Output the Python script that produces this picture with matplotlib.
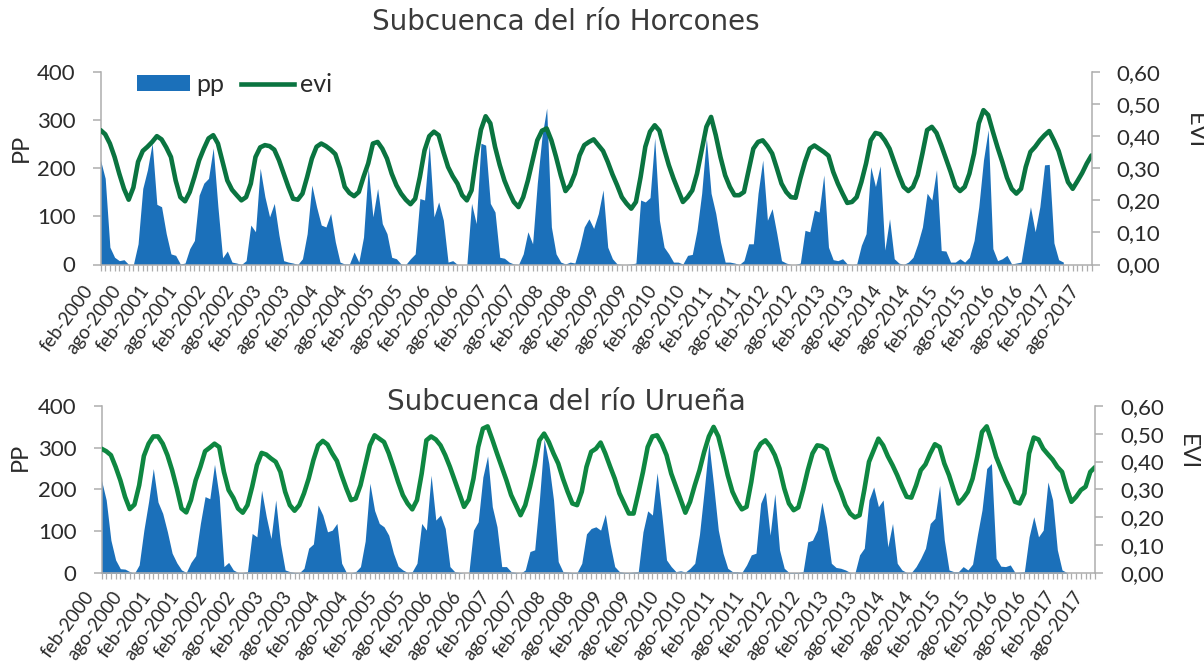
import numpy as np
import matplotlib
matplotlib.use("Agg")
import matplotlib.pyplot as plt
import matplotlib.transforms as mtransforms
from matplotlib.patches import Patch
from matplotlib.lines import Line2D

W, H, DPI = 1204, 668, 100

# ---- category axis: monthly series from feb-2000 to sep-2017 ----
month_abbr = ["ene", "feb", "mar", "abr", "may", "jun",
              "jul", "ago", "sep", "oct", "nov", "dic"]
start_year, start_month = 2000, 2
n_months = 212
label_step = 6
months = [f"{month_abbr[(start_month - 1 + k) % 12]}-{start_year + (start_month - 1 + k) // 12}"
          for k in range(n_months)]

# ---- Subcuenca del río Horcones ----
pp_horcones = [
    217, 179, 36, 15, 8, 10, 0, 0, 43, 158,
    197, 252, 125, 120, 64, 22, 19, 1, 3, 33,
    50, 144, 169, 179, 242, 120, 14, 28, 5, 3,
    0, 8, 82, 68, 200, 141, 99, 127, 61, 8,
    5, 3, 0, 12, 64, 165, 120, 82, 78, 106,
    47, 5, 1, 1, 26, 5, 57, 200, 99, 158,
    85, 64, 15, 12, 1, 0, 12, 22, 137, 134,
    249, 99, 130, 92, 5, 8, 0, 0, 0, 127,
    85, 252, 248, 127, 109, 15, 13, 5, 1, 0,
    22, 68, 43, 169, 266, 325, 78, 22, 5, 1,
    5, 3, 36, 78, 95, 75, 106, 155, 36, 12,
    1, 0, 0, 1, 3, 134, 130, 139, 263, 92,
    36, 22, 5, 5, 1, 19, 21, 71, 148, 263,
    148, 106, 47, 5, 5, 3, 0, 8, 43, 43,
    148, 217, 92, 116, 64, 8, 3, 0, 0, 3,
    71, 68, 113, 109, 186, 36, 10, 8, 12, 1,
    0, 1, 40, 64, 203, 162, 205, 30, 95, 12,
    3, 0, 5, 15, 43, 78, 148, 134, 197, 29,
    28, 5, 5, 12, 5, 15, 50, 120, 217, 280,
    33, 8, 12, 19, 1, 3, 5, 64, 120, 68,
    120, 207, 208, 45, 10, 5,
]
evi_horcones = [
    .419, .406, .377, .335, .283, .236, .202, .240, .320, .354,
    .367, .382, .400, .390, .365, .335, .262, .210, .197, .226,
    .273, .325, .361, .393, .403, .377, .320, .262, .233, .216,
    .200, .210, .252, .335, .365, .372, .369, .358, .325, .283,
    .242, .205, .202, .221, .273, .330, .367, .377, .369, .358,
    .344, .300, .242, .223, .213, .226, .273, .315, .377, .382,
    .361, .330, .283, .247, .221, .202, .188, .205, .273, .356,
    .400, .414, .403, .351, .304, .275, .252, .216, .200, .231,
    .335, .420, .462, .440, .367, .310, .262, .226, .195, .179,
    .210, .262, .325, .387, .417, .424, .387, .335, .278, .229,
    .247, .283, .340, .372, .382, .390, .372, .354, .320, .281,
    .247, .210, .190, .174, .195, .273, .367, .414, .434, .417,
    .361, .310, .268, .231, .195, .210, .231, .283, .356, .429,
    .460, .403, .335, .278, .242, .216, .216, .226, .294, .361,
    .382, .387, .369, .346, .300, .252, .226, .210, .208, .268,
    .320, .361, .371, .361, .351, .339, .289, .252, .221, .192,
    .195, .210, .257, .315, .387, .410, .406, .387, .361, .320,
    .278, .242, .229, .242, .278, .346, .419, .429, .410, .372,
    .330, .289, .244, .229, .242, .283, .346, .440, .481, .466,
    .414, .365, .320, .271, .236, .221, .236, .304, .351, .367,
    .387, .403, .416, .387, .354, .304, .257, .236, .260, .285,
    .315, .340,
]

# ---- Subcuenca del río Urueña ----
pp_uruena = [
    222, 175, 79, 32, 11, 10, 4, 0, 20, 103,
    171, 250, 170, 143, 99, 48, 25, 8, 2, 26,
    42, 119, 183, 178, 260, 183, 16, 26, 8, 2,
    2, 4, 95, 87, 198, 135, 83, 175, 71, 8,
    4, 2, 1, 12, 60, 70, 163, 139, 99, 103,
    119, 24, 2, 1, 4, 16, 77, 215, 150, 119,
    111, 91, 48, 17, 8, 2, 4, 24, 119, 103,
    234, 127, 139, 107, 16, 4, 2, 0, 0, 103,
    123, 230, 280, 159, 111, 16, 16, 4, 2, 0,
    8, 52, 56, 175, 320, 262, 175, 28, 4, 3,
    2, 2, 24, 94, 107, 111, 103, 141, 71, 16,
    4, 2, 2, 3, 4, 99, 149, 139, 240, 140,
    32, 16, 4, 6, 3, 12, 24, 93, 198, 310,
    210, 103, 48, 12, 4, 4, 2, 20, 44, 48,
    167, 194, 91, 190, 56, 12, 2, 2, 2, 4,
    75, 79, 103, 170, 110, 24, 14, 12, 8, 2,
    0, 44, 60, 175, 206, 159, 175, 63, 119, 24,
    8, 2, 2, 16, 36, 60, 119, 131, 210, 79,
    8, 4, 4, 16, 8, 22, 90, 151, 250, 262,
    36, 17, 16, 20, 2, 3, 4, 87, 135, 87,
    103, 218, 175, 56, 8, 2,
]
evi_uruena = [
    .446, .437, .423, .381, .333, .274, .230, .246, .315, .420,
    .464, .490, .490, .464, .423, .369, .304, .232, .218, .262,
    .333, .381, .437, .450, .464, .452, .363, .298, .270, .232,
    .217, .244, .310, .387, .431, .425, .411, .399, .363, .292,
    .244, .224, .244, .286, .339, .405, .458, .474, .461, .429,
    .402, .351, .304, .262, .268, .315, .387, .458, .494, .482,
    .470, .430, .380, .327, .280, .250, .229, .262, .357, .476,
    .490, .479, .458, .423, .381, .333, .286, .238, .264, .339,
    .452, .518, .526, .479, .429, .381, .333, .280, .244, .208,
    .244, .310, .387, .476, .500, .470, .429, .393, .339, .292,
    .250, .244, .292, .381, .435, .446, .468, .429, .383, .339,
    .286, .250, .214, .214, .286, .363, .452, .490, .494, .464,
    .423, .357, .310, .262, .217, .256, .315, .369, .435, .490,
    .524, .490, .423, .351, .292, .256, .229, .238, .327, .435,
    .464, .476, .455, .423, .375, .304, .250, .226, .236, .298,
    .369, .429, .458, .455, .443, .387, .333, .292, .244, .214,
    .200, .208, .298, .399, .440, .482, .458, .419, .387, .351,
    .310, .274, .271, .315, .369, .390, .429, .462, .452, .393,
    .351, .298, .250, .268, .292, .339, .417, .506, .526, .476,
    .417, .375, .333, .298, .256, .250, .286, .429, .486, .479,
    .446, .426, .407, .381, .363, .304, .256, .274, .298, .310,
    .363, .380,
]

pp_ticks = [0, 100, 200, 300, 400]
evi_ticks = [0.0, 0.1, 0.2, 0.3, 0.4, 0.5, 0.6]
evi_tick_labels = ["0,00", "0,10", "0,20", "0,30", "0,40", "0,50", "0,60"]

BLUE = "#1B70BA"
GRID_GREY = "#ADADAD"
TEXT = "#2b2b2b"

plt.rcParams["font.family"] = ["Lato", "DejaVu Sans"]

fig = plt.figure(figsize=(W / DPI, H / DPI), dpi=DPI)
fig.patch.set_facecolor("white")


def px_rect(left, top, right, bottom):
    return [left / W, 1 - bottom / H, (right - left) / W, (bottom - top) / H]


def draw_panel(rect, pp, evi, green, title, title_base, pp_lab_xy, evi_lab_xy,
               xlabel_pad, legend=False):
    ax = fig.add_axes(rect)
    ax2 = ax.twinx()

    x_pp = np.arange(len(pp))
    ax.fill_between(x_pp, pp, 0, color=BLUE, linewidth=0)
    ax2.plot(np.arange(len(evi)), evi, color=green, lw=3.3,
             solid_joinstyle="round", solid_capstyle="round")

    ax.set_xlim(0, n_months - 1)
    ax.set_ylim(pp_ticks[0], pp_ticks[-1])
    ax2.set_ylim(evi_ticks[0], evi_ticks[-1])

    ax.set_yticks(pp_ticks)
    ax.set_yticklabels([str(t) for t in pp_ticks])
    ax2.set_yticks(evi_ticks)
    ax2.set_yticklabels(evi_tick_labels)

    ax.set_xticks(np.arange(n_months))
    ax.set_xticklabels([months[k] if k % label_step == 0 else ""
                        for k in range(n_months)])

    for a in (ax, ax2):
        for s in a.spines.values():
            s.set_visible(False)
            s.set_color(GRID_GREY)
            s.set_linewidth(1.1)
    ax.spines["left"].set_visible(True)
    ax.spines["bottom"].set_visible(True)
    ax2.spines["right"].set_visible(True)

    ax.tick_params(axis="y", length=6, width=1.1, color=GRID_GREY,
                   labelsize=16, labelcolor=TEXT, pad=12)
    ax2.tick_params(axis="y", length=6, width=1.1, color=GRID_GREY,
                    labelsize=16, labelcolor=TEXT, pad=12)
    ax.tick_params(axis="x", length=4, width=0.9, color=GRID_GREY,
                   labelsize=13.5, labelcolor=TEXT, pad=xlabel_pad)

    shift = mtransforms.ScaledTranslation(-4 / DPI, 0, fig.dpi_scale_trans)
    for lab in ax.get_xticklabels():
        lab.set_rotation(54)
        lab.set_ha("right")
        lab.set_va("top")
        lab.set_transform(lab.get_transform() + shift)

    fig.text(566 / W, 1 - title_base / H, title, ha="center", va="baseline",
             fontsize=20, color="#3a3a3a", family=["DejaVu Sans"])
    fig.text(pp_lab_xy[0] / W, 1 - pp_lab_xy[1] / H, "PP", rotation=90,
             ha="center", va="center", fontsize=17, color=TEXT)
    fig.text(evi_lab_xy[0] / W, 1 - evi_lab_xy[1] / H, "EVI", rotation=270,
             ha="center", va="center", fontsize=17, color=TEXT)

    if legend:
        handles = [Patch(facecolor=BLUE, edgecolor="none", label="pp"),
                   Line2D([], [], color=green, lw=3.3, label="evi")]
        ax2.legend(handles=handles, loc="upper left",
                   bbox_to_anchor=(137 / W, 1 - 73 / H),
                   bbox_transform=fig.transFigure, ncol=2, frameon=False,
                   fontsize=18, handlelength=2.1, handleheight=0.6,
                   handletextpad=0.25, columnspacing=0.7, borderpad=0,
                   borderaxespad=0, labelcolor=TEXT)
    return ax, ax2


draw_panel(px_rect(100.5, 72, 1091.5, 264.5), pp_horcones, evi_horcones,
           "#0A7440", "Subcuenca del río Horcones", 30.5,
           (21, 148), (1194, 131), 9, legend=True)
draw_panel(px_rect(101.5, 405.7, 1095, 573.3), pp_uruena, evi_uruena,
           "#0E8741", "Subcuenca del río Urueña", 410,
           (20, 457), (1187, 452), 6.5)

fig.savefig("out.png", dpi=DPI, facecolor="white")
